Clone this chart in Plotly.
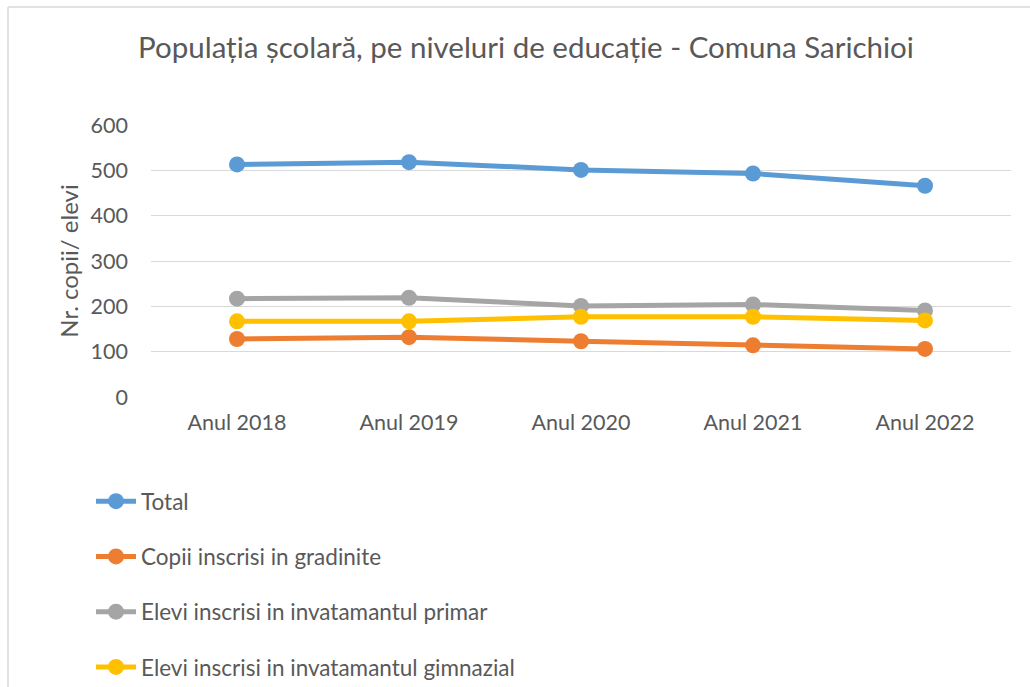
import plotly.graph_objects as go

years = ["Anul 2018", "Anul 2019", "Anul 2020", "Anul 2021", "Anul 2022"]
total = [513, 518, 501, 493, 466]
gradinite = [128, 132, 123, 114, 106]
primar = [217, 219, 201, 204, 191]
gimnazial = [167, 167, 177, 177, 169]

series = [
    ("Total", total, "#5B9BD5"),
    ("Copii inscrisi in gradinite", gradinite, "#ED7D31"),
    ("Elevi inscrisi in invatamantul primar", primar, "#A5A5A5"),
    ("Elevi inscrisi in invatamantul gimnazial", gimnazial, "#FFC000"),
]

FONT = "Lato, Carlito, Calibri, sans-serif"
TXT = "#595959"

fig = go.Figure()
for i, (name, vals, col) in enumerate(series):
    fig.add_trace(go.Scatter(
        x=years, y=vals, name=name, mode="lines+markers",
        line=dict(color=col, width=5),
        marker=dict(color=col, size=16),
        legendgroup=f"g{i}",
    ))

W, H = 1030, 687
L, R, T, B = 151, 1011, 125, 397
pw, ph = R - L, B - T

def px_x(px):
    return (px - L) / pw

def px_y(py):
    return (B - py) / ph

border = dict(color="#D9D9D9", width=1.5)

fig.update_layout(
    width=W, height=H,
    margin=dict(l=L, r=W - R, t=T, b=H - B, pad=0, autoexpand=False),
    paper_bgcolor="white", plot_bgcolor="white",
    font=dict(family=FONT, color=TXT, size=21),
    title=dict(text="Populația școlară, pe niveluri de educație - Comuna Sarichioi",
               x=526 / W, xanchor="center", y=1 - 48 / H, yanchor="middle",
               font=dict(size=29.5, color=TXT, family=FONT)),
    xaxis=dict(showgrid=False, zeroline=False, showline=False, ticks="",
               range=[-0.5, 4.5],
               tickfont=dict(size=21.5, color=TXT), ticklabelstandoff=10),
    yaxis=dict(range=[0, 600], dtick=100, showgrid=True, gridcolor="#D9D9D9",
               gridwidth=1.3, zeroline=False, showline=False, ticks="",
               tickfont=dict(size=21.5, color=TXT), ticklabelstandoff=22,
               title=dict(text="Nr. copii/ elevi", font=dict(size=24, color=TXT), standoff=5)),
    showlegend=True,
    legend=dict(orientation="v", x=px_x(91), xanchor="left",
                y=px_y(480), yanchor="top", traceorder="grouped",
                tracegroupgap=23, font=dict(size=22.5, color=TXT),
                itemwidth=40, bgcolor="rgba(0,0,0,0)"),
    shapes=[
        dict(type="line", xref="paper", yref="paper",
             x0=px_x(8), x1=px_x(1035), y0=px_y(7), y1=px_y(7), line=border, layer="below"),
        dict(type="line", xref="paper", yref="paper",
             x0=px_x(8), x1=px_x(8), y0=px_y(7), y1=px_y(695), line=border, layer="below"),
    ],
)

fig.write_html("out.html", config={"displayModeBar": False},
               post_script="document.body.style.margin='0px';document.body.style.overflow='hidden';")
